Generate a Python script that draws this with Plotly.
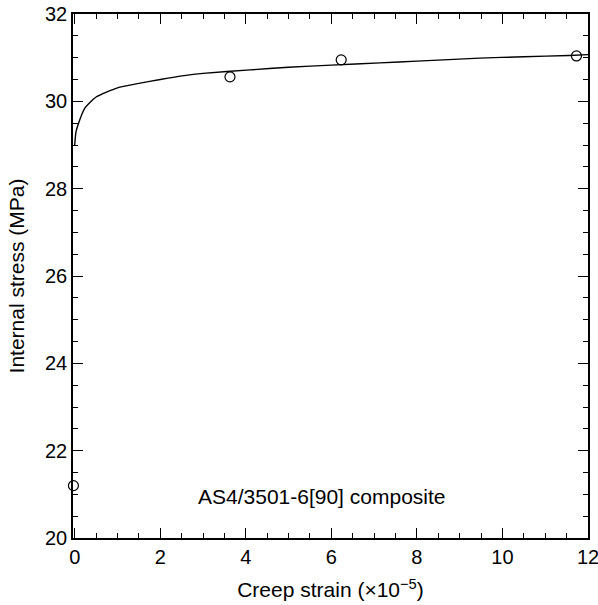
import plotly.graph_objects as go

# Measured data points (creep strain x1e-5, internal stress MPa)
pts_x = [-0.03, 3.63, 6.23, 11.73]
pts_y = [21.2, 30.56, 30.95, 31.04]

# Fitted curve
curve_x = [0.0, 0.03, 0.09, 0.24, 0.5, 1.0, 1.5, 2.0, 2.56, 3.0, 4.1, 5.0, 6.0, 7.14, 8.0, 9.47, 10.5, 11.56, 12.0]
curve_y = [29.0, 29.3, 29.5, 29.85, 30.1, 30.31, 30.41, 30.5, 30.59, 30.64, 30.72, 30.78, 30.83, 30.88, 30.92, 30.99, 31.02, 31.05, 31.07]

x_ticks = [0, 2, 4, 6, 8, 10, 12]
y_ticks = [20, 22, 24, 26, 28, 30, 32]

FONT = "Liberation Sans, Arial, Helvetica, sans-serif"

fig = go.Figure()
fig.add_trace(go.Scatter(x=curve_x, y=curve_y, mode="lines",
                         line=dict(color="black", width=1.4, shape="spline", smoothing=0.6),
                         showlegend=False, hoverinfo="skip"))
fig.add_trace(go.Scatter(x=pts_x, y=pts_y, mode="markers",
                         marker=dict(symbol="circle-open", size=10, color="black", line=dict(width=1.2)),
                         showlegend=False, cliponaxis=False))

fig.add_annotation(x=5.78, y=20.94, xref="x", yref="y", text="AS4/3501-6[90] composite",
                   showarrow=False, font=dict(family=FONT, size=21, color="black"))

axis_common = dict(showgrid=False, zeroline=False, showline=True, linecolor="black", linewidth=1.5,
                   mirror="ticks", ticks="inside", ticklen=10, tickwidth=1.3, tickcolor="black",
                   automargin=False, ticklabeloverflow="allow",
                   tickfont=dict(family=FONT, size=20, color="black"),
                   minor=dict(ticks="inside", ticklen=5, tickwidth=1, tickcolor="black", dtick=0.5))

fig.update_xaxes(range=[-0.04, 12], tickvals=x_ticks, ticktext=[str(v) for v in x_ticks],
                 title=dict(text="Creep strain (×10<sup>−5</sup>)", font=dict(family=FONT, size=21, color="black"), standoff=16),
                 **axis_common)
fig.update_yaxes(range=[20, 32], tickvals=y_ticks, ticktext=[str(v) for v in y_ticks],
                 title=dict(text="Internal stress (MPa)", font=dict(family=FONT, size=21, color="black"), standoff=15),
                 **axis_common)

fig.update_layout(width=598, height=605, margin=dict(l=73, r=10, t=14, b=67),
                  plot_bgcolor="white", paper_bgcolor="white")

fig.write_html("out.html")
